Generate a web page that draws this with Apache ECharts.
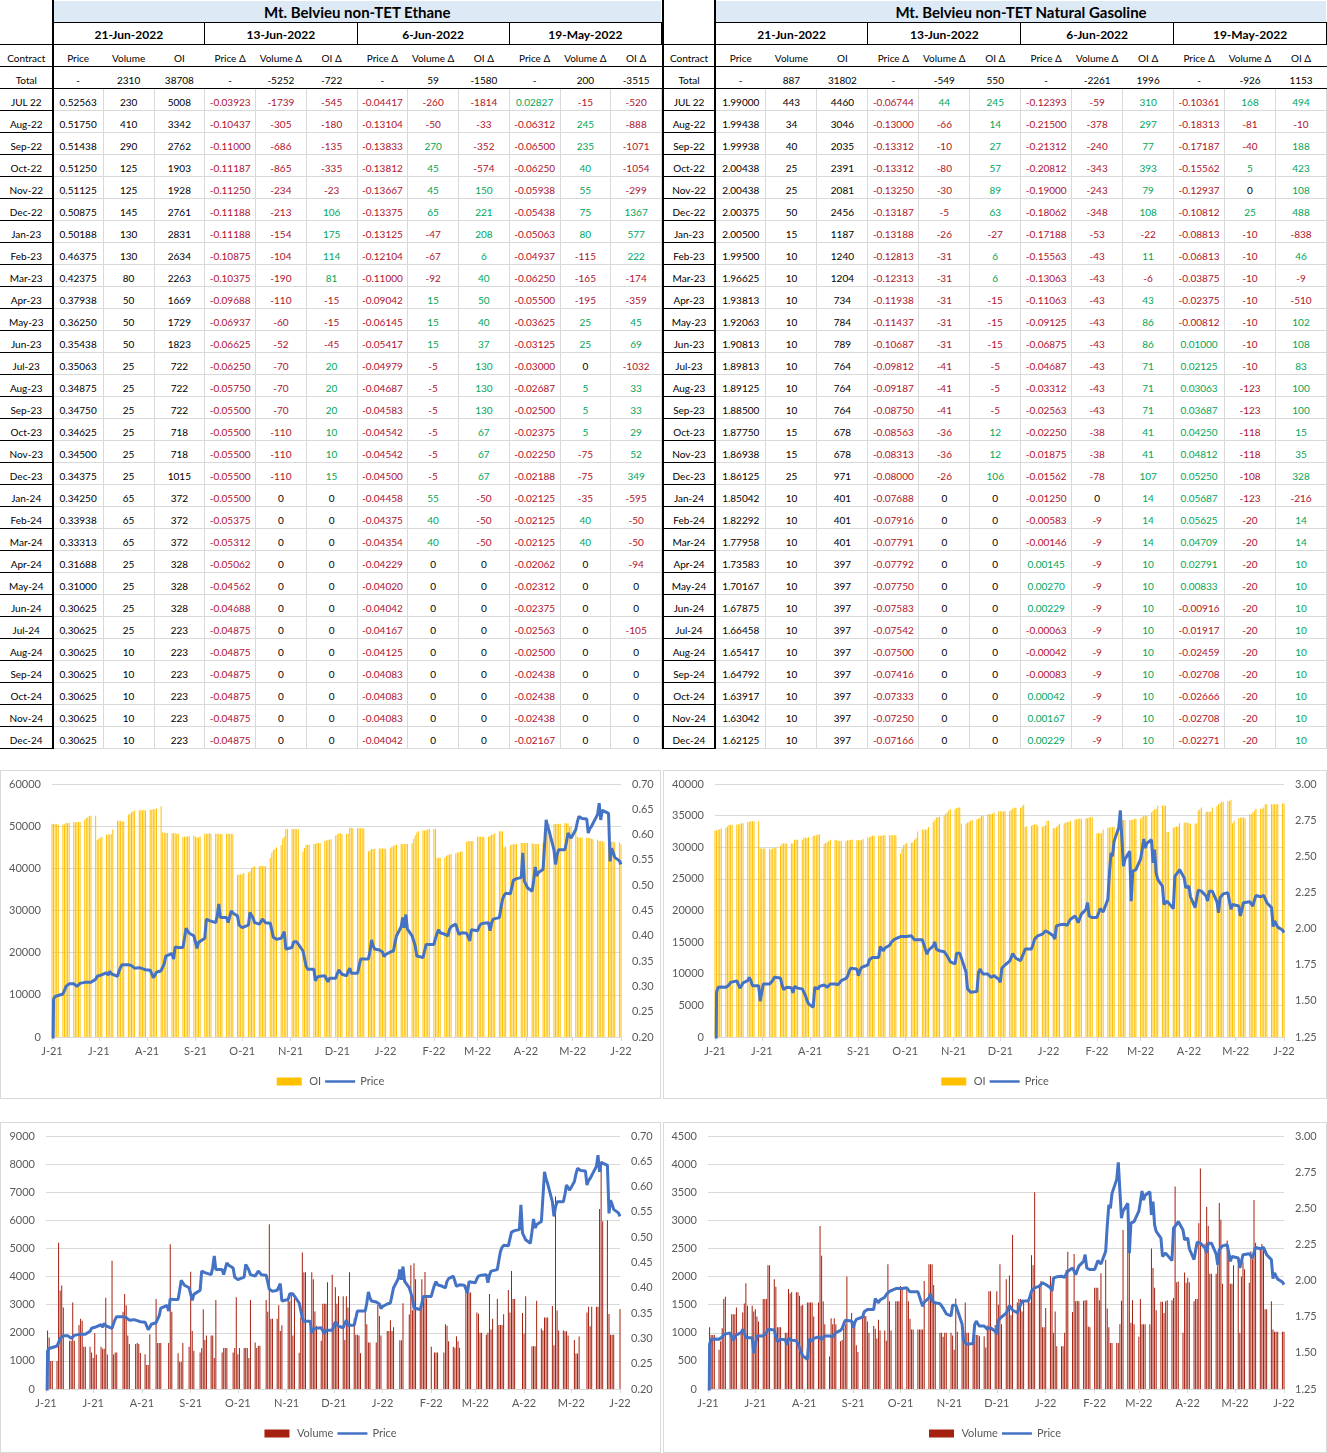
<!DOCTYPE html>
<html>
<head>
<meta charset="utf-8">
<title>Mt. Belvieu non-TET</title>
<script src="https://cdn.jsdelivr.net/npm/echarts@6/dist/echarts.min.js"></script>
<style>
  body { margin: 0; background: #fff; font-family: Lato, 'Noto Sans', sans-serif; }
  #page { position: relative; width: 1327px; height: 1453px; overflow: hidden; }
  table.sheet { position: absolute; top: 0; border-collapse: collapse; table-layout: fixed; font-size: 10px; color: #000; }
  table.sheet tr { height: 22px; }
  table.sheet td { padding: 0 0 2px 0; line-height: 12px; vertical-align: bottom; text-align: center; white-space: nowrap; overflow: hidden; border: 1px solid transparent; }
  table.sheet td.ct, table.sheet td.ctTop { border-right: 2px solid #000; border-bottom: 1px solid #000; }
  table.right td.ct, table.right td.ctTop { border-left: 2px solid #000; }
  table.sheet td.title { background: #dde9f5; font-weight: bold; font-size: 15px; line-height: 18px; padding-bottom: 1px; border-bottom: 1px solid #000; }
  table.sheet td.date { font-weight: bold; font-size: 12px; line-height: 14px; border-bottom: 1px solid #000; border-right: 1px solid #000; }
  table.sheet td.hdr { border-bottom: 1px solid #000; }
  table.sheet td.tot { border-bottom: 1px solid #000; }
  table.sheet td.d { border: 1px solid #d9d9d9; }
  table.sheet td.neg { color: #b0122d; }
  table.sheet td.pos { color: #00a65a; }
  .chart { position: absolute; border: 1px solid #d9d9d9; box-sizing: border-box; }
</style>
</head>
<body>
<div id="page">
  <table class="sheet left" id="ethaneTable"></table>
  <table class="sheet right" id="gasolineTable"></table>
  <div class="chart" id="ethaneOiChart" style="left:0;top:770px;width:661px;height:329px"></div>
  <div class="chart" id="gasolineOiChart" style="left:663px;top:770px;width:664px;height:329px"></div>
  <div class="chart" id="ethaneVolChart" style="left:0;top:1122px;width:661px;height:331px"></div>
  <div class="chart" id="gasolineVolChart" style="left:663px;top:1122px;width:664px;height:331px"></div>
</div>
<script>
// table headers
var reportDates = ['21-Jun-2022', '13-Jun-2022', '6-Jun-2022', '19-May-2022'];
var columnNames = ['Price', 'Volume', 'OI', 'Price Δ', 'Volume Δ', 'OI Δ', 'Price Δ', 'Volume Δ', 'OI Δ', 'Price Δ', 'Volume Δ', 'OI Δ'];
var contracts = ['JUL 22', 'Aug-22', 'Sep-22', 'Oct-22', 'Nov-22', 'Dec-22', 'Jan-23', 'Feb-23', 'Mar-23', 'Apr-23', 'May-23', 'Jun-23',
  'Jul-23', 'Aug-23', 'Sep-23', 'Oct-23', 'Nov-23', 'Dec-23', 'Jan-24', 'Feb-24', 'Mar-24', 'Apr-24', 'May-24', 'Jun-24',
  'Jul-24', 'Aug-24', 'Sep-24', 'Oct-24', 'Nov-24', 'Dec-24'];

// ethane table
var ethaneTotal = ['-', '2310', '38708', '-', '-5252', '-722', '-', '59', '-1580', '-', '200', '-3515'];
var ethaneRows = [
  ['0.52563', '230', '5008', '-0.03923', '-1739', '-545', '-0.04417', '-260', '-1814', '0.02827', '-15', '-520'],
  ['0.51750', '410', '3342', '-0.10437', '-305', '-180', '-0.13104', '-50', '-33', '-0.06312', '245', '-888'],
  ['0.51438', '290', '2762', '-0.11000', '-686', '-135', '-0.13833', '270', '-352', '-0.06500', '235', '-1071'],
  ['0.51250', '125', '1903', '-0.11187', '-865', '-335', '-0.13812', '45', '-574', '-0.06250', '40', '-1054'],
  ['0.51125', '125', '1928', '-0.11250', '-234', '-23', '-0.13667', '45', '150', '-0.05938', '55', '-299'],
  ['0.50875', '145', '2761', '-0.11188', '-213', '106', '-0.13375', '65', '221', '-0.05438', '75', '1367'],
  ['0.50188', '130', '2831', '-0.11188', '-154', '175', '-0.13125', '-47', '208', '-0.05063', '80', '577'],
  ['0.46375', '130', '2634', '-0.10875', '-104', '114', '-0.12104', '-67', '6', '-0.04937', '-115', '222'],
  ['0.42375', '80', '2263', '-0.10375', '-190', '81', '-0.11000', '-92', '40', '-0.06250', '-165', '-174'],
  ['0.37938', '50', '1669', '-0.09688', '-110', '-15', '-0.09042', '15', '50', '-0.05500', '-195', '-359'],
  ['0.36250', '50', '1729', '-0.06937', '-60', '-15', '-0.06145', '15', '40', '-0.03625', '25', '45'],
  ['0.35438', '50', '1823', '-0.06625', '-52', '-45', '-0.05417', '15', '37', '-0.03125', '25', '69'],
  ['0.35063', '25', '722', '-0.06250', '-70', '20', '-0.04979', '-5', '130', '-0.03000', '0', '-1032'],
  ['0.34875', '25', '722', '-0.05750', '-70', '20', '-0.04687', '-5', '130', '-0.02687', '5', '33'],
  ['0.34750', '25', '722', '-0.05500', '-70', '20', '-0.04583', '-5', '130', '-0.02500', '5', '33'],
  ['0.34625', '25', '718', '-0.05500', '-110', '10', '-0.04542', '-5', '67', '-0.02375', '5', '29'],
  ['0.34500', '25', '718', '-0.05500', '-110', '10', '-0.04542', '-5', '67', '-0.02250', '-75', '52'],
  ['0.34375', '25', '1015', '-0.05500', '-110', '15', '-0.04500', '-5', '67', '-0.02188', '-75', '349'],
  ['0.34250', '65', '372', '-0.05500', '0', '0', '-0.04458', '55', '-50', '-0.02125', '-35', '-595'],
  ['0.33938', '65', '372', '-0.05375', '0', '0', '-0.04375', '40', '-50', '-0.02125', '40', '-50'],
  ['0.33313', '65', '372', '-0.05312', '0', '0', '-0.04354', '40', '-50', '-0.02125', '40', '-50'],
  ['0.31688', '25', '328', '-0.05062', '0', '0', '-0.04229', '0', '0', '-0.02062', '0', '-94'],
  ['0.31000', '25', '328', '-0.04562', '0', '0', '-0.04020', '0', '0', '-0.02312', '0', '0'],
  ['0.30625', '25', '328', '-0.04688', '0', '0', '-0.04042', '0', '0', '-0.02375', '0', '0'],
  ['0.30625', '25', '223', '-0.04875', '0', '0', '-0.04167', '0', '0', '-0.02563', '0', '-105'],
  ['0.30625', '10', '223', '-0.04875', '0', '0', '-0.04125', '0', '0', '-0.02500', '0', '0'],
  ['0.30625', '10', '223', '-0.04875', '0', '0', '-0.04083', '0', '0', '-0.02438', '0', '0'],
  ['0.30625', '10', '223', '-0.04875', '0', '0', '-0.04083', '0', '0', '-0.02438', '0', '0'],
  ['0.30625', '10', '223', '-0.04875', '0', '0', '-0.04083', '0', '0', '-0.02438', '0', '0'],
  ['0.30625', '10', '223', '-0.04875', '0', '0', '-0.04042', '0', '0', '-0.02167', '0', '0']
];

// natural gasoline table
var gasolineTotal = ['-', '887', '31802', '-', '-549', '550', '-', '-2261', '1996', '-', '-926', '1153'];
var gasolineRows = [
  ['1.99000', '443', '4460', '-0.06744', '44', '245', '-0.12393', '-59', '310', '-0.10361', '168', '494'],
  ['1.99438', '34', '3046', '-0.13000', '-66', '14', '-0.21500', '-378', '297', '-0.18313', '-81', '-10'],
  ['1.99938', '40', '2035', '-0.13312', '-10', '27', '-0.21312', '-240', '77', '-0.17187', '-40', '188'],
  ['2.00438', '25', '2391', '-0.13312', '-80', '57', '-0.20812', '-343', '393', '-0.15562', '5', '423'],
  ['2.00438', '25', '2081', '-0.13250', '-30', '89', '-0.19000', '-243', '79', '-0.12937', '0', '108'],
  ['2.00375', '50', '2456', '-0.13187', '-5', '63', '-0.18062', '-348', '108', '-0.10812', '25', '488'],
  ['2.00500', '15', '1187', '-0.13188', '-26', '-27', '-0.17188', '-53', '-22', '-0.08813', '-10', '-838'],
  ['1.99500', '10', '1240', '-0.12813', '-31', '6', '-0.15563', '-43', '11', '-0.06813', '-10', '46'],
  ['1.96625', '10', '1204', '-0.12313', '-31', '6', '-0.13063', '-43', '-6', '-0.03875', '-10', '-9'],
  ['1.93813', '10', '734', '-0.11938', '-31', '-15', '-0.11063', '-43', '43', '-0.02375', '-10', '-510'],
  ['1.92063', '10', '784', '-0.11437', '-31', '-15', '-0.09125', '-43', '86', '-0.00812', '-10', '102'],
  ['1.90813', '10', '789', '-0.10687', '-31', '-15', '-0.06875', '-43', '86', '0.01000', '-10', '108'],
  ['1.89813', '10', '764', '-0.09812', '-41', '-5', '-0.04687', '-43', '71', '0.02125', '-10', '83'],
  ['1.89125', '10', '764', '-0.09187', '-41', '-5', '-0.03312', '-43', '71', '0.03063', '-123', '100'],
  ['1.88500', '10', '764', '-0.08750', '-41', '-5', '-0.02563', '-43', '71', '0.03687', '-123', '100'],
  ['1.87750', '15', '678', '-0.08563', '-36', '12', '-0.02250', '-38', '41', '0.04250', '-118', '15'],
  ['1.86938', '15', '678', '-0.08313', '-36', '12', '-0.01875', '-38', '41', '0.04812', '-118', '35'],
  ['1.86125', '25', '971', '-0.08000', '-26', '106', '-0.01562', '-78', '107', '0.05250', '-108', '328'],
  ['1.85042', '10', '401', '-0.07688', '0', '0', '-0.01250', '0', '14', '0.05687', '-123', '-216'],
  ['1.82292', '10', '401', '-0.07916', '0', '0', '-0.00583', '-9', '14', '0.05625', '-20', '14'],
  ['1.77958', '10', '401', '-0.07791', '0', '0', '-0.00146', '-9', '14', '0.04709', '-20', '14'],
  ['1.73583', '10', '397', '-0.07792', '0', '0', '0.00145', '-9', '10', '0.02791', '-20', '10'],
  ['1.70167', '10', '397', '-0.07750', '0', '0', '0.00270', '-9', '10', '0.00833', '-20', '10'],
  ['1.67875', '10', '397', '-0.07583', '0', '0', '0.00229', '-9', '10', '-0.00916', '-20', '10'],
  ['1.66458', '10', '397', '-0.07542', '0', '0', '-0.00063', '-9', '10', '-0.01917', '-20', '10'],
  ['1.65417', '10', '397', '-0.07500', '0', '0', '-0.00042', '-9', '10', '-0.02459', '-20', '10'],
  ['1.64792', '10', '397', '-0.07416', '0', '0', '-0.00083', '-9', '10', '-0.02708', '-20', '10'],
  ['1.63917', '10', '397', '-0.07333', '0', '0', '0.00042', '-9', '10', '-0.02666', '-20', '10'],
  ['1.63042', '10', '397', '-0.07250', '0', '0', '0.00167', '-9', '10', '-0.02708', '-20', '10'],
  ['1.62125', '10', '397', '-0.07166', '0', '0', '0.00229', '-9', '10', '-0.02271', '-20', '10']
];

// daily history, one value per weekday from 21-Jun-2021 to 21-Jun-2022
var ethanePrice = [
  0, 0.275, 0.280, 0.281, 0.282, 0.285, 0.292, 0.300, 0.303, 0.305,
  0.305, 0.303, 0.300, 0.303, 0.306, 0.308, 0.307, 0.308, 0.307, 0.308,
  0.314, 0.320, 0.323, 0.322, 0.323, 0.327, 0.322, 0.330, 0.325, 0.322,
  0.320, 0.330, 0.338, 0.343, 0.344, 0.343, 0.344, 0.341, 0.338, 0.336,
  0.337, 0.340, 0.335, 0.332, 0.333, 0.332, 0.325, 0.317, 0.322, 0.328,
  0.331, 0.328, 0.345, 0.360, 0.362, 0.365, 0.354, 0.378, 0.376, 0.377,
  0.377, 0.395, 0.415, 0.410, 0.405, 0.400, 0.388, 0.375, 0.387, 0.390,
  0.395, 0.433, 0.431, 0.430, 0.428, 0.426, 0.440, 0.463, 0.436, 0.436,
  0.436, 0.426, 0.438, 0.449, 0.445, 0.439, 0.421, 0.418, 0.416, 0.418,
  0.421, 0.446, 0.446, 0.435, 0.426, 0.423, 0.420, 0.433, 0.430, 0.426,
  0.425, 0.423, 0.397, 0.395, 0.393, 0.395, 0.397, 0.408, 0.374, 0.375,
  0.377, 0.388, 0.388, 0.388, 0.388, 0.370, 0.355, 0.340, 0.334, 0.334,
  0.334, 0.311, 0.318, 0.318, 0.320, 0.321, 0.315, 0.309, 0.316, 0.316,
  0.316, 0.325, 0.333, 0.328, 0.324, 0.321, 0.330, 0.336, 0.326, 0.326,
  0.326, 0.340, 0.354, 0.354, 0.354, 0.354, 0.370, 0.392, 0.380, 0.374,
  0.372, 0.370, 0.368, 0.359, 0.363, 0.368, 0.369, 0.370, 0.385, 0.400,
  0.418, 0.436, 0.416, 0.442, 0.413, 0.400, 0.390, 0.380, 0.360, 0.358,
  0.357, 0.370, 0.383, 0.383, 0.383, 0.383, 0.395, 0.405, 0.412, 0.406,
  0.403, 0.402, 0.400, 0.413, 0.418, 0.423, 0.413, 0.403, 0.405, 0.406,
  0.405, 0.403, 0.390, 0.412, 0.411, 0.410, 0.418, 0.423, 0.424, 0.425,
  0.426, 0.410, 0.425, 0.433, 0.435, 0.436, 0.455, 0.472, 0.480, 0.484,
  0.483, 0.482, 0.510, 0.512, 0.513, 0.515, 0.564, 0.508, 0.505, 0.495,
  0.488, 0.510, 0.536, 0.518, 0.525, 0.531, 0.580, 0.629, 0.615, 0.606,
  0.570, 0.541, 0.560, 0.570, 0.570, 0.570, 0.585, 0.603, 0.598, 0.593,
  0.610, 0.625, 0.636, 0.634, 0.632, 0.631, 0.603, 0.612, 0.616, 0.616,
  0.640, 0.662, 0.629, 0.648, 0.645, 0.642, 0.547, 0.573, 0.565, 0.555,
  0.548, 0.541
];
var ethaneOi = [
  50500, 50600, 50500, 50500, 50300, 50400, 50400, 50800, 50700, 50800,
  50900, 50900, 51000, 51000, 51000, 51500, 51900, 52200, 52400, 52500,
  52500, 46700, 47000, 47200, 47500, 48000, 48000, 48000, 48100, 49200,
  51200, 51300, 51200, 51100, 51100, 52700, 53000, 53300, 53500, 53700,
  53800, 53800, 53800, 53900, 53700, 53900, 53900, 54000, 54000, 54200,
  54700, 48500, 48500, 48400, 48400, 48300, 48300, 48300, 48200, 48200,
  47500, 47500, 47500, 47600, 47600, 47700, 47500, 47300, 47300, 47600,
  48200, 48200, 48200, 48300, 48200, 48200, 48200, 48200, 48100, 48200,
  48200, 48200, 48200, 48200, 48100, 38500, 38500, 38600, 38600, 38900,
  39000, 39300, 40000, 40300, 40500, 40500, 40600, 40500, 40500, 40500,
  42500, 43700, 44300, 44500, 45000, 45500, 47000, 47500, 49300, 49300,
  49300, 49300, 49300, 49300, 49200, 44000, 44800, 45600, 45600, 45600,
  45800, 45800, 46000, 46000, 46000, 46500, 46600, 46800, 46800, 46900,
  47800, 48000, 48300, 48300, 48100, 48200, 48200, 49600, 49600, 49500,
  49500, 49500, 49500, 49500, 49400, 44000, 44300, 44600, 44600, 44600,
  44700, 44700, 44700, 44700, 44600, 44800, 45100, 45300, 45500, 45600,
  45800, 45800, 45800, 45800, 45800, 46000, 47000, 47800, 48500, 48800,
  49000, 49000, 49100, 49200, 49300, 49300, 49300, 42500, 42500, 42500,
  42500, 43000, 43200, 43300, 43400, 43500, 43700, 43800, 44000, 44000,
  46300, 46400, 46500, 46500, 46500, 47500, 47500, 47500, 47500, 47400,
  47500, 47700, 48000, 48000, 48300, 48800, 48800, 48800, 45000, 45200,
  45500, 45700, 45700, 45700, 45800, 46000, 46000, 46000, 46000, 46000,
  46000, 45800, 45800, 45800, 45800, 46000, 47500, 49000, 50500, 50500,
  50500, 50500, 50500, 50600, 50600, 50700, 50700, 50700, 50000, 50000,
  50000, 47500, 47300, 47300, 47300, 47300, 47200, 47200, 47000, 46900,
  46800, 46500, 46500, 46400, 46300, 46300, 46300, 46300, 46300, 46200,
  46200, 45700
];
var ethaneVolume = [
  0, 2080, 1830, 1000, 1000, 1000, 5200, 3500, 3680, 2900,
  0, 1720, 1720, 3080, 1720, 2280, 2500, 2430, 1500, 1500,
  1500, 1300, 1100, 1980, 1230, 1500, 1430, 1430, 3250, 1230,
  4560, 1230, 1300, 1300, 0, 2750, 3380, 2980, 1900, 1600,
  0, 1600, 1640, 1600, 1280, 1240, 850, 850, 1950, 0,
  3200, 1640, 1640, 1640, 0, 0, 1640, 5150, 2750, 0,
  1270, 970, 970, 1640, 0, 1500, 4170, 2060, 1360, 0,
  1300, 1450, 2840, 1740, 1900, 1900, 1900, 1100, 3170, 0,
  1300, 1460, 1460, 1460, 0, 1300, 1460, 3260, 1240, 1460,
  1460, 1460, 1460, 1100, 3170, 1650, 1460, 1540, 1540, 0,
  3170, 2750, 5860, 2500, 2500, 2500, 2980, 2060, 2270, 0,
  3260, 3120, 3380, 1900, 3230, 1290, 2540, 4860, 4150, 4150,
  2170, 4150, 3900, 2760, 2250, 1720, 3030, 3030, 3030, 3800,
  4060, 2350, 3620, 3030, 3300, 3300, 1740, 3300, 2900, 4150,
  2500, 1930, 1930, 1900, 1270, 2800, 2300, 1650, 1650, 0,
  1650, 3000, 2600, 1900, 0, 2060, 2060, 2450, 2060, 2200,
  0, 1730, 1730, 3050, 0, 2650, 4400, 2800, 4470, 3900,
  2900, 3900, 3330, 4160, 3230, 1500, 0, 1300, 1300, 1300,
  0, 1300, 2300, 2250, 1700, 1500, 1470, 1880, 1700, 1470,
  0, 3700, 3700, 3430, 3430, 0, 2720, 2680, 2000, 2000,
  1930, 2000, 3380, 2120, 2500, 3200, 2280, 2280, 2280, 2660,
  3520, 2720, 4200, 3200, 3200, 0, 0, 2700, 1970, 3300,
  0, 1520, 1520, 1520, 3140, 2150, 2080, 2540, 2540, 2540,
  2950, 1560, 6850, 2790, 2080, 2080, 2050, 2050, 1900, 0,
  1740, 1260, 1260, 1870, 0, 0, 2720, 2930, 2230, 2930,
  2930, 2930, 6400, 7900, 5970, 6000, 2670, 1930, 1930, 1930,
  0, 2850
];
var gasolinePrice = [
  0, 1.560, 1.594, 1.598, 1.596, 1.594, 1.583, 1.610, 1.628, 1.632,
  1.638, 1.640, 1.587, 1.605, 1.625, 1.640, 1.663, 1.640, 1.605, 1.605,
  1.605, 1.498, 1.560, 1.617, 1.617, 1.617, 1.617, 1.640, 1.663, 1.660,
  1.658, 1.610, 1.578, 1.585, 1.594, 1.590, 1.555, 1.601, 1.595, 1.588,
  1.583, 1.560, 1.537, 1.505, 1.479, 1.456, 1.594, 1.590, 1.583, 1.600,
  1.610, 1.617, 1.594, 1.605, 1.617, 1.617, 1.617, 1.612, 1.610, 1.640,
  1.655, 1.670, 1.700, 1.725, 1.722, 1.720, 1.674, 1.710, 1.732, 1.740,
  1.748, 1.784, 1.790, 1.800, 1.800, 1.800, 1.876, 1.860, 1.846, 1.865,
  1.885, 1.904, 1.915, 1.925, 1.938, 1.945, 1.950, 1.945, 1.938, 1.945,
  1.950, 1.954, 1.922, 1.922, 1.922, 1.922, 1.890, 1.855, 1.823, 1.850,
  1.880, 1.908, 1.858, 1.850, 1.846, 1.840, 1.835, 1.810, 1.789, 1.770,
  1.755, 1.830, 1.830, 1.830, 1.830, 1.700, 1.583, 1.570, 1.560, 1.562,
  1.564, 1.697, 1.720, 1.700, 1.686, 1.686, 1.686, 1.663, 1.670, 1.674,
  1.650, 1.628, 1.725, 1.735, 1.748, 1.775, 1.800, 1.828, 1.810, 1.795,
  1.778, 1.805, 1.830, 1.858, 1.858, 1.858, 1.890, 1.927, 1.940, 1.950,
  1.962, 1.975, 1.984, 1.978, 1.973, 1.950, 1.927, 2.018, 2.022, 2.026,
  2.030, 2.026, 2.023, 2.045, 2.064, 2.087, 2.065, 2.041, 2.071, 2.100,
  2.133, 2.179, 2.087, 2.076, 2.076, 2.076, 2.105, 2.138, 2.125, 2.115,
  2.202, 2.380, 2.523, 2.500, 2.603, 2.700, 2.817, 2.620, 2.431, 2.480,
  2.534, 2.190, 2.397, 2.400, 2.408, 2.480, 2.546, 2.619, 2.557, 2.590,
  2.614, 2.454, 2.546, 2.385, 2.340, 2.294, 2.167, 2.180, 2.190, 2.202,
  2.138, 2.362, 2.375, 2.390, 2.408, 2.350, 2.282, 2.290, 2.294, 2.220,
  2.145, 2.210, 2.266, 2.262, 2.259, 2.225, 2.190, 2.259, 2.259, 2.259,
  2.185, 2.110, 2.213, 2.225, 2.240, 2.248, 2.190, 2.133, 2.167, 2.160,
  2.156, 2.087, 2.130, 2.179, 2.183, 2.186, 2.190, 2.156, 2.195, 2.229,
  2.220, 2.213, 2.229, 2.205, 2.179, 2.145, 2.014, 2.053, 2.030, 2.010,
  1.990, 1.972
];
var gasolineOi = [
  32600, 32700, 32800, 32800, 33000, 33100, 33300, 33500, 33500, 33500,
  33600, 33600, 33700, 33800, 33800, 34000, 34000, 34100, 34100, 34100,
  34100, 29800, 29800, 29800, 29800, 29700, 29700, 29800, 29900, 30000,
  30200, 30600, 30600, 30600, 30600, 30600, 30600, 31200, 31200, 31200,
  31200, 31500, 31500, 31500, 31600, 31800, 31800, 31900, 32000, 32000,
  30500, 30700, 30800, 31000, 31200, 31200, 31100, 31000, 31000, 31000,
  31000, 31100, 31100, 31200, 31200, 31100, 31100, 31100, 31100, 31300,
  31500, 31600, 31700, 31800, 31800, 31800, 31800, 31800, 31900, 31900,
  31900, 31900, 31900, 31900, 31900, 29000, 29800, 30300, 30500, 30700,
  30700, 30800, 31200, 31500, 32500, 32800, 32800, 32800, 32800, 33200,
  34000, 34300, 34700, 34800, 34800, 35000, 35300, 35500, 35800, 36000,
  36000, 36200, 36300, 36300, 33700, 33700, 33900, 34000, 34200, 34300,
  34400, 34500, 34700, 35000, 35000, 35200, 35200, 35200, 35300, 35500,
  35700, 35700, 35700, 35700, 35700, 35700, 35900, 36100, 36300, 36200,
  36200, 36500, 36700, 33200, 33300, 33400, 33500, 33600, 33600, 33400,
  33300, 33300, 33500, 34200, 34200, 33000, 33000, 33200, 33500, 33700,
  33800, 33900, 34000, 34000, 34200, 34400, 34400, 34500, 34500, 34500,
  34600, 34600, 34700, 34800, 34700, 32200, 32200, 32200, 32200, 32800,
  33100, 33100, 33200, 33200, 33200, 34300, 34300, 34300, 34300, 34300,
  34300, 34300, 34300, 34500, 34500, 34500, 34800, 35000, 35000, 35000,
  35500, 35800, 36000, 36000, 36600, 36600, 36600, 36600, 32400, 32400,
  33000, 33200, 33300, 33300, 33800, 33900, 33900, 33900, 33800, 33700,
  33700, 33800, 35800, 36000, 36300, 35600, 35600, 35600, 35600, 36300,
  36500, 36800, 37000, 37200, 37200, 37300, 37300, 37500, 33800, 34200,
  34600, 34700, 34700, 34700, 34600, 35200, 35200, 35500, 35800, 36100,
  36100, 36100, 36300, 36800, 36800, 36800, 36800, 36800, 36800, 36800,
  36900, 36900
];
var gasolineVolume = [
  0, 1100, 960, 960, 960, 700, 850, 1080, 1600, 1640,
  1000, 1330, 1330, 1330, 1450, 1000, 1360, 1520, 1880, 1480,
  1480, 1380, 1420, 1290, 1200, 1600, 1600, 1600, 2200, 2200,
  1950, 1820, 1100, 1100, 1100, 1000, 1000, 1780, 1700, 1720,
  1720, 1720, 1660, 1480, 1500, 1540, 1540, 1540, 1540, 1290,
  1540, 2900, 2370, 1560, 1150, 580, 1260, 1150, 1260, 1150,
  850, 870, 1100, 1150, 2000, 1350, 1200, 1200, 780, 660,
  1300, 1300, 1300, 1200, 1000, 1120, 1070, 900, 1230, 1040,
  1040, 860, 2220, 1560, 1040, 1560, 1560, 1560, 1830, 1800,
  1800, 1560, 1250, 1060, 1060, 1060, 1060, 1060, 1060, 1920,
  2220, 2220, 2220, 1850, 1540, 1000, 1000, 930, 1000, 1000,
  1000, 950, 700, 1610, 1020, 1020, 1000, 1540, 1000, 1000,
  970, 970, 960, 960, 940, 940, 740, 1130, 1740, 1740,
  1140, 1740, 1500, 2220, 1150, 1950, 1470, 2020, 1310, 2740,
  1540, 1600, 1600, 1380, 1550, 1580, 1540, 2380, 2200, 3500,
  1860, 1920, 1100, 1100, 1440, 2010, 1850, 1000, 1380, 760,
  760, 760, 1000, 2120, 2440, 1370, 2400, 1560, 1570, 1560,
  1570, 1580, 1580, 1110, 1100, 1800, 1800, 1800, 1580, 2060,
  2300, 1430, 1100, 820, 820, 820, 820, 1150, 1570, 2830,
  2950, 2950, 1180, 1580, 1150, 930, 1600, 1150, 1150, 1150,
  1150, 2500, 2150, 1800, 1400, 1550, 1550, 1350, 1560, 1580,
  1580, 1620, 3600, 1900, 1910, 1000, 2070, 1890, 1980, 1900,
  1560, 1600, 1600, 2950, 3920, 2590, 3240, 2900, 2050, 2050,
  2050, 2400, 3310, 3010, 1870, 2640, 2460, 1870, 1870, 2200,
  2200, 1000, 2000, 2270, 2130, 1890, 2450, 2310, 3360, 2600,
  2500, 2580, 2500, 1420, 1420, 1560, 1060, 1020, 1020, 1020,
  1020, 1020
];

// axis labels: first letter of the month
var monthLetters = ['J', 'F', 'M', 'A', 'M', 'J', 'J', 'A', 'S', 'O', 'N', 'D'];

// ---------- tables ----------
function buildTable(id, title, total, rows) {
  var html = '<colgroup><col style="width:52px">';
  for (var i = 0; i < 12; i++) html += '<col>';
  html += '</colgroup>';
  html += '<tr><td class="ctTop" rowspan="2"></td><td class="title" colspan="12">' + title + '</td></tr>';
  html += '<tr>';
  reportDates.forEach(function (d) { html += '<td class="date" colspan="3">' + d + '</td>'; });
  html += '</tr>';
  html += '<tr><td class="ct">Contract</td>';
  columnNames.forEach(function (c) { html += '<td class="hdr">' + c + '</td>'; });
  html += '</tr>';
  html += '<tr><td class="ct">Total</td>';
  total.forEach(function (v) { html += '<td class="tot">' + v + '</td>'; });
  html += '</tr>';
  rows.forEach(function (r, k) {
    html += '<tr><td class="ct">' + contracts[k] + '</td>';
    r.forEach(function (v, j) {
      var cls = 'd';
      if (j >= 3) {
        if (v.charAt(0) === '-') cls += ' neg';
        else if (parseFloat(v) > 0) cls += ' pos';
      }
      html += '<td class="' + cls + '">' + v + '</td>';
    });
    html += '</tr>';
  });
  document.getElementById(id).innerHTML = html;
}
var leftTable = document.getElementById('ethaneTable');
leftTable.style.left = '0px';
leftTable.style.width = '662px';
var rightTable = document.getElementById('gasolineTable');
rightTable.style.left = '662px';
rightTable.style.width = '665px';
buildTable('ethaneTable', 'Mt. Belvieu non-TET Ethane', ethaneTotal, ethaneRows);
buildTable('gasolineTable', 'Mt. Belvieu non-TET Natural Gasoline', gasolineTotal, gasolineRows);

// ---------- charts ----------
// calendar days on the axis, weekdays carry the values
var days = [];
var tradeIndex = [];
var start = Date.UTC(2021, 5, 21);
var end = Date.UTC(2022, 5, 21);
var n = 0;
for (var ms = start; ms <= end; ms += 86400000) {
  var dt = new Date(ms);
  days.push(dt.toISOString().slice(0, 10));
  var wd = dt.getUTCDay();
  if (wd >= 1 && wd <= 5) { tradeIndex.push(n); n++; } else { tradeIndex.push(-1); }
}
function daily(values) {
  return tradeIndex.map(function (t) {
    if (t < 0 || t >= values.length) return null;
    return values[t];
  });
}
function isLabelDay(index, value) { return value.slice(8) === '21'; }
function monthLabel(value) {
  return monthLetters[parseInt(value.slice(5, 7), 10) - 1] + '-' + value.slice(2, 4);
}

function makeChart(id, cfg) {
  var chart = echarts.init(document.getElementById(id), null, { renderer: 'canvas' });
  var textStyle = { color: '#595959', fontSize: 11, fontFamily: 'Lato' };
  chart.setOption({
    animation: false,
    textStyle: { fontFamily: 'Lato' },
    grid: cfg.grid,
    legend: {
      top: cfg.legendTop,
      left: 'center',
      itemWidth: 30,
      itemHeight: 8,
      itemGap: 4,
      textStyle: { color: '#595959', fontSize: 11, fontFamily: 'Lato' },
      data: [
        { name: cfg.barName, icon: 'path://M0,0H25V8H0Z' },
        { name: 'Price', icon: 'path://M0,0H36V3H0Z' }
      ]
    },
    xAxis: {
      type: 'category',
      data: days,
      boundaryGap: false,
      axisLine: { lineStyle: { color: '#d9d9d9' } },
      axisTick: { interval: isLabelDay, length: 4, lineStyle: { color: '#d9d9d9' } },
      axisLabel: Object.assign({ interval: isLabelDay, formatter: monthLabel, margin: 9 }, textStyle),
      splitLine: { show: false }
    },
    yAxis: [
      {
        type: 'value',
        min: 0,
        max: cfg.leftMax,
        interval: cfg.leftStep,
        axisLine: { show: false },
        axisTick: { show: false },
        axisLabel: Object.assign({ margin: 11, formatter: function (v) { return String(v); } }, textStyle),
        splitLine: { lineStyle: { color: '#d9d9d9' } }
      },
      {
        type: 'value',
        min: cfg.rightMin,
        max: cfg.rightMax,
        interval: cfg.rightStep,
        axisLine: { show: false },
        axisTick: { show: false },
        axisLabel: Object.assign({ margin: 11, formatter: function (v) { return v.toFixed(2); } }, textStyle),
        splitLine: { show: false }
      }
    ],
    series: [
      {
        name: cfg.barName,
        type: 'bar',
        yAxisIndex: 0,
        barWidth: 1,
        itemStyle: { color: cfg.barColor },
        data: daily(cfg.bars)
      },
      {
        name: 'Price',
        type: 'line',
        yAxisIndex: 1,
        showSymbol: false,
        symbol: 'none',
        connectNulls: true,
        clip: true,
        lineStyle: { color: '#4472c4', width: 3 },
        itemStyle: { color: '#4472c4' },
        data: daily(cfg.price)
      }
    ]
  });
}

makeChart('ethaneOiChart', {
  grid: { left: 51, right: 39, top: 13, bottom: 61 },
  legendTop: 300,
  barName: 'OI', barColor: '#ffc000', bars: ethaneOi, price: ethanePrice,
  leftMax: 60000, leftStep: 10000, rightMin: 0.2, rightMax: 0.7, rightStep: 0.05
});
makeChart('gasolineOiChart', {
  grid: { left: 51, right: 42, top: 13, bottom: 61 },
  legendTop: 300,
  barName: 'OI', barColor: '#ffc000', bars: gasolineOi, price: gasolinePrice,
  leftMax: 40000, leftStep: 5000, rightMin: 1.25, rightMax: 3, rightStep: 0.25
});
makeChart('ethaneVolChart', {
  grid: { left: 45, right: 40, top: 13, bottom: 63 },
  legendTop: 300,
  barName: 'Volume', barColor: '#a5200f', bars: ethaneVolume, price: ethanePrice,
  leftMax: 9000, leftStep: 1000, rightMin: 0.2, rightMax: 0.7, rightStep: 0.05
});
makeChart('gasolineVolChart', {
  grid: { left: 44, right: 42, top: 13, bottom: 63 },
  legendTop: 300,
  barName: 'Volume', barColor: '#a5200f', bars: gasolineVolume, price: gasolinePrice,
  leftMax: 4500, leftStep: 500, rightMin: 1.25, rightMax: 3, rightStep: 0.25
});
</script>
</body>
</html>
